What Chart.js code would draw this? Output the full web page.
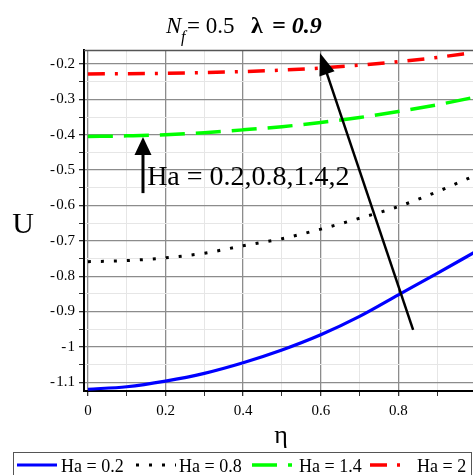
<!DOCTYPE html>
<html><head><meta charset="utf-8">
<script src="https://cdn.jsdelivr.net/npm/chart.js@4/dist/chart.umd.min.js"></script>
<style>
html,body{margin:0;padding:0;background:#fff;overflow:hidden}
#wrap{position:relative;width:473px;height:475px;overflow:hidden;background:#fff}
#c{position:absolute;left:0;top:0}
</style></head><body>
<div id="wrap"><canvas id="c" width="490" height="475"></canvas></div>
<script>
// ---- data ----
const eta = [0, 0.1, 0.2, 0.3, 0.4, 0.5, 0.6, 0.7, 0.8, 0.9, 1.0];
const seriesLabels = ['Ha = 0.2', 'Ha = 0.8', 'Ha = 1.4', 'Ha = 2'];
const uHa02 = [-1.120, -1.113, -1.097, -1.075, -1.045, -1.009, -0.966, -0.914, -0.853, -0.792, -0.730];
const uHa08 = [-0.759, -0.756, -0.748, -0.735, -0.714, -0.694, -0.667, -0.636, -0.603, -0.561, -0.514];
const uHa14 = [-0.405, -0.403, -0.400, -0.394, -0.386, -0.377, -0.365, -0.351, -0.334, -0.315, -0.293];
const uHa2  = [-0.228, -0.227, -0.226, -0.224, -0.221, -0.217, -0.211, -0.203, -0.193, -0.181, -0.166];
const xTicks = [0, 0.1, 0.2, 0.3, 0.4, 0.5, 0.6, 0.7, 0.8, 0.9, 1.0];
const xTickLabels = ['0', '', '0.2', '', '0.4', '', '0.6', '', '0.8', '', '1'];
const yTicks = [-1.1, -1.05, -1.0, -0.95, -0.9, -0.85, -0.8, -0.75, -0.7, -0.65, -0.6, -0.55, -0.5, -0.45, -0.4, -0.35, -0.3, -0.25, -0.2];
const yTickLabels = ['-1.1', '', '-1', '', '-0.9', '', '-0.8', '', '-0.7', '', '-0.6', '', '-0.5', '', '-0.4', '', '-0.3', '', '-0.2'];
const titleParts = ['N', 'f', '= 0.5', 'λ', '= 0.9'];
const yTitle = 'U';
const xTitle = 'η';
const annotationText = 'Ha = 0.2,0.8,1.4,2';

const SERIF = '"Liberation Serif", "Times New Roman", serif';
const styles = [
  {color: '#0000ff', width: 3.2, dash: []},
  {color: '#000000', width: 3, dash: [3, 10]},
  {color: '#00ff00', width: 3.5, dash: [25, 11]},
  {color: '#ff0000', width: 3.5, dash: [17, 10, 3, 10]}
];
const allSeries = [uHa02, uHa08, uHa14, uHa2];

const datasets = allSeries.map((s, i) => ({
  label: seriesLabels[i],
  data: eta.map((x, j) => ({x: x, y: s[j]})),
  borderColor: styles[i].color,
  backgroundColor: styles[i].color,
  borderWidth: styles[i].width,
  borderDash: styles[i].dash,
  borderCapStyle: 'butt',
  pointRadius: 0,
  fill: false,
  cubicInterpolationMode: 'monotone'
}));

const isMult = (v, step) => Math.abs(v / step - Math.round(v / step)) < 1e-6;

// legend layout (sample start, text start)
const legendSampleX = [17, 136, 252, 370];
const legendTextX = [61, 179, 299, 417];

const decor = {
  id: 'decor',
  afterDatasetsDraw(chart) {
    const c = chart.ctx, a = chart.chartArea;
    const xs = chart.scales.x, ys = chart.scales.y;
    c.save();
    c.strokeStyle = '#555'; c.lineWidth = 1.5;
    c.beginPath(); c.moveTo(a.left, a.top + 0.5); c.lineTo(a.right, a.top + 0.5); c.stroke();

    function arrow(x0, y0, x1, y1, lw, hl, hw) {
      const px0 = xs.getPixelForValue(x0), py0 = ys.getPixelForValue(y0);
      const px1 = xs.getPixelForValue(x1), py1 = ys.getPixelForValue(y1);
      const ang = Math.atan2(py1 - py0, px1 - px0);
      const bx = px1 - hl * Math.cos(ang), by = py1 - hl * Math.sin(ang);
      c.strokeStyle = '#000'; c.fillStyle = '#000'; c.lineWidth = lw; c.setLineDash([]);
      c.beginPath(); c.moveTo(px0, py0); c.lineTo(bx + 2 * Math.cos(ang), by + 2 * Math.sin(ang)); c.stroke();
      c.beginPath();
      c.moveTo(px1, py1);
      c.lineTo(bx + hw * Math.sin(ang), by - hw * Math.cos(ang));
      c.lineTo(bx - hw * Math.sin(ang), by + hw * Math.cos(ang));
      c.closePath(); c.fill();
    }
    arrow(0.142, -0.565, 0.142, -0.406, 3, 18, 8.5);
    arrow(0.838, -0.952, 0.598, -0.1685, 2.5, 22, 8);

    c.fillStyle = '#000';
    c.font = '28px ' + SERIF;
    c.textAlign = 'left'; c.textBaseline = 'alphabetic';
    c.fillText(annotationText, xs.getPixelForValue(0.1527), ys.getPixelForValue(-0.5426));
    c.restore();
  },
  afterDraw(chart) {
    const c = chart.ctx;
    c.save();
    c.fillStyle = '#000'; c.textBaseline = 'alphabetic'; c.textAlign = 'left';
    c.font = 'italic 23px ' + SERIF; c.fillText(titleParts[0], 166, 33);
    c.font = 'italic 16px ' + SERIF; c.fillText(titleParts[1], 181, 42);
    c.font = '23px ' + SERIF; c.fillText(titleParts[2], 187, 33);
    c.font = 'bold 24px ' + SERIF; c.fillText(titleParts[3], 251, 33);
    c.font = 'italic bold 24px ' + SERIF; c.fillText(titleParts[4], 272, 33);
    c.textAlign = 'center';
    c.font = '30px ' + SERIF; c.fillText(yTitle, 23, 233);
    c.font = '26px ' + SERIF; c.fillText(xTitle, 281, 443);
    // legend
    c.strokeStyle = '#555'; c.lineWidth = 1; c.setLineDash([]);
    c.strokeRect(13.5, 452.5, 458, 40);
    c.font = '18px ' + SERIF; c.textAlign = 'left';
    const ly = 465;
    chart.data.datasets.forEach((ds, i) => {
      const x = legendSampleX[i];
      c.save();
      c.strokeStyle = ds.borderColor; c.lineWidth = ds.borderWidth;
      c.setLineDash(ds.borderDash || []); c.lineCap = 'butt';
      c.beginPath(); c.moveTo(x, ly); c.lineTo(x + 40, ly); c.stroke();
      c.restore();
      c.fillStyle = '#000';
      c.fillText(ds.label, legendTextX[i], 472);
    });
    c.restore();
  }
};

new Chart(document.getElementById('c'), {
  type: 'line',
  data: {datasets: datasets},
  plugins: [decor],
  options: {
    responsive: false,
    animation: false,
    events: [],
    layout: {padding: {left: 0, top: 50, right: 14, bottom: 0}},
    plugins: {legend: {display: false}, title: {display: false}, tooltip: {enabled: false}},
    scales: {
      x: {
        type: 'linear', min: -0.01, max: 1.0,
        afterBuildTicks: (s) => { s.ticks = xTicks.map(v => ({value: v})); },
        afterFit: (s) => { s.height = 84; s.paddingLeft = 0; s.paddingRight = 0; },
        ticks: {
          autoSkip: false, maxRotation: 0, padding: 6, color: '#000',
          font: {family: SERIF, size: 15},
          callback: (v, i) => xTickLabels[i]
        },
        grid: {
          color: (ctx) => isMult(ctx.tick.value, 0.2) ? '#8c8c8c' : '#e6e6e6',
          lineWidth: (ctx) => isMult(ctx.tick.value, 0.2) ? 1.3 : 1,
          tickColor: '#333', tickLength: 5, drawTicks: true
        },
        border: {display: true, color: '#000', width: 2}
      },
      y: {
        type: 'linear', min: -1.125, max: -0.16,
        afterBuildTicks: (s) => { s.ticks = yTicks.map(v => ({value: v})); },
        afterFit: (s) => { s.width = 84; s.paddingTop = 0; s.paddingBottom = 0; },
        ticks: {
          autoSkip: false, padding: 4, color: '#000',
          font: {family: SERIF, size: 15},
          callback: (v, i) => yTickLabels[i] ? yTickLabels[i].replace('-', '-\u200A') : ''
        },
        grid: {
          color: (ctx) => isMult(ctx.tick.value, 0.1) ? '#8c8c8c' : '#e6e6e6',
          lineWidth: (ctx) => isMult(ctx.tick.value, 0.1) ? 1.3 : 1,
          tickColor: '#333', tickLength: 5, drawTicks: true
        },
        border: {display: true, color: '#000', width: 2}
      }
    }
  }
});
</script>
</body></html>
